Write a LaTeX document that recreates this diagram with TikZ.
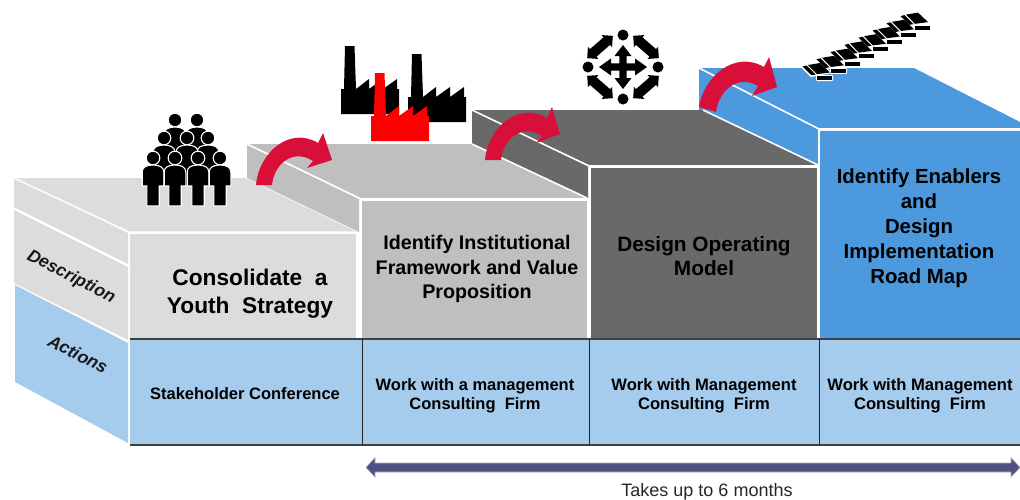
\documentclass[tikz,border=0pt]{standalone}
\usepackage{fontspec}
\setmainfont{Liberation Sans}
\definecolor{bone}{HTML}{DCDCDC}
\definecolor{btwo}{HTML}{BFBFBF}
\definecolor{bthree}{HTML}{696969}
\definecolor{bfour}{HTML}{4C9ADD}
\definecolor{act}{HTML}{A5CBED}
\definecolor{redarrow}{HTML}{D81039}
\definecolor{navy}{HTML}{4F4F82}
\tikzset{
 head/.style={align=center,inner sep=0pt,text=black},
 small/.style={font=\bfseries\fontsize{16.5}{19}\selectfont,align=center,inner sep=0pt,text=black},
 side/.style={font=\bfseries\itshape\fontsize{17.5}{19}\selectfont,inner sep=0pt,text=black!90},
 bent/.style={fill=redarrow},
 person/.pic={\fill[black,draw=white,line width=1.1pt] (0,0) circle (6.8);
   \fill[black,draw=white,line width=1.1pt] (-10.8,26) -- (-10.8,14) .. controls (-10.8,9) and (-6,7) .. (0,7) .. controls (6,7) and (10.8,9) .. (10.8,14) -- (10.8,28) -- (6.2,28) -- (6.2,48) -- (-6.2,48) -- (-6.2,28) -- (-10.8,28) -- cycle;},
 factory/.pic={\fill[pic actions] (0,0) -- (0,-25) -- (3,-25) -- (4,-68) -- (13.5,-68) -- (15,-25) -- (28,-35) -- (28,-25) -- (42,-35) -- (42,-25) -- (56,-35) -- (56,-25) -- (58,-25) -- (58,0) -- cycle;},
 dbl/.pic={\fill[black] (-17,0) -- (-9,-8) -- (-9,-5) -- (9,-5) -- (9,-8) -- (17,0) -- (9,8) -- (9,5) -- (-9,5) -- (-9,8) -- cycle;},
 stairhalo/.pic={\draw[white,line width=2pt,line join=round,fill=white] (0,0) rectangle (15,4) (-15,-9) -- (3,-13) -- (13,-3.5) -- (-6,0) -- cycle;},
 stair/.pic={\fill[black] (0,0) rectangle (15,4);
   \fill[black] (-14.5,-9.5) -- (-10.5,-10.5) -- (-1.5,-1.5) -- (-5.5,-.8) -- cycle;
   \fill[black] (-9,-11) -- (3,-13) -- (13,-3.5) -- (0,-1.8) -- cycle;},
}
\begin{document}
\begin{tikzpicture}[x=1pt,y=-1pt]
\useasboundingbox (0,0) rectangle (1020,499);
% block 4
\fill[bfour] (699,68) -- (914,68) -- (1020,122) -- (1020,130) -- (820,130) -- cycle;
\fill[bfour] (699,68) -- (819,128) -- (819,165) -- (699,110) -- cycle;
\draw[white,line width=1.6pt] (699,68) -- (819,129) -- (1020,129);
\draw[white,line width=1.6pt] (819,129) -- (819,340);
\fill[bfour] (820,131) rectangle (1020,338);
% block 3
\fill[bthree] (472,110) -- (703,110) -- (818,165) -- (589,165) -- cycle;
\fill[bthree] (472,110) -- (588,166) -- (588,198) -- (472,144) -- cycle;
\draw[white,line width=1.6pt] (472,110) -- (589,166) -- (818,166) (703,110) -- (818,165);
\fill[bthree] (591,167.5) rectangle (817,338);
% block 2
\fill[btwo] (247,144) -- (472,144) -- (586,198) -- (360,198) -- cycle;
\fill[btwo] (247,144) -- (359,199) -- (359,232) -- (247,178) -- cycle;
\draw[white,line width=1.6pt] (247,144) -- (361,199) -- (586,199);
\draw[white,line width=1.6pt] (472,144) -- (587,198);
\fill[btwo] (362,200.5) rectangle (587,338);
% block 1
\fill[bone] (14,178) -- (245,178) -- (357,232) -- (128,232) -- cycle;
\fill[bone] (14,178) -- (128,233) -- (128,264) -- (14,207) -- cycle;
\fill[bone] (14,210) -- (128,267) -- (128,340) -- (14,283) -- cycle;
\fill[act] (15,285) -- (128,343) -- (128,443) -- (15,382) -- cycle;
\draw[white,line width=1.4pt] (14,178) -- (129,232) -- (357,232);
\fill[bone] (130,233.5) rectangle (355.5,338);
% bottom row
\fill[act] (130,339) rectangle (1020,445);
\draw[black!75,line width=1.1pt] (130,339) -- (1020,339) (130,445) -- (1020,445);
\draw[black!85,line width=1pt] (362.5,339) -- (362.5,445) (589.5,339) -- (589.5,445) (819.5,339) -- (819.5,445);
% red arrows
\fill[bent] (256,185) .. controls (259,152) and (290,126) .. (318,143) -- (323,133) -- (332,160) -- (307,168) -- (313,161) .. controls (293,148) and (274,164) .. (272,185) -- cycle;
\fill[bent] (485,160) .. controls (488,127) and (519,101) .. (547,118) -- (552,107) -- (560,134) -- (536,143) -- (542,136) .. controls (522,123) and (503,139) .. (501,160) -- cycle;
\fill[bent] (699,107) .. controls (704,76) and (735,50) .. (764,67) -- (769,57) -- (777,87) -- (752,96) -- (758,86) .. controls (738,74) and (719,90) .. (716,112) -- cycle;
% people
\foreach \p in {(175,120),(197,120),(164,138),(187,138),(208,138),(153,158),(175,158),(198,158),(220,158)}
  \pic at \p {person};
% factories
\pic[fill=black] at (341,114) {factory};
\pic[fill=black] at (408,122) {factory};
\pic[fill=red] at (371,141) {factory};
% compass
\begin{scope}[shift={(623,67)}]
\fill[black] (0,-32) circle (5.5) (0,32) circle (5.5) (-35,0) circle (5.5) (35,0) circle (5.5);
\fill[black] (-24,0) -- (-12,-8.5) -- (-12,-3.7) -- (-3.7,-3.7) -- (-3.7,-11) -- (-8.5,-11) -- (0,-22) -- (8.5,-11) -- (3.7,-11) -- (3.7,-3.7) -- (12,-3.7) -- (12,-8.5) -- (24,0) -- (12,8.5) -- (12,3.7) -- (3.7,3.7) -- (3.7,11) -- (8.5,11) -- (0,22) -- (-8.5,11) -- (-3.7,11) -- (-3.7,3.7) -- (-12,3.7) -- (-12,8.5) -- cycle;
\pic[rotate=41] at (-23,-20) {dbl};
\pic[rotate=-41] at (23,-20) {dbl};
\pic[rotate=-41] at (-23,20) {dbl};
\pic[rotate=41] at (23,20) {dbl};
\end{scope}
% stairs
\foreach \i in {0,...,7} \pic at ({817+14*\i},{76-7.2*\i}) {stairhalo};
\foreach \i in {0,...,7} \pic at ({817+14*\i},{76-7.2*\i}) {stair};
% double arrow
\fill[navy,draw=navy!45,line width=.6pt] (366,467.5) -- (375,457.5) -- (375,463) -- (1011,463) -- (1011,457.5) -- (1020,467.5) -- (1011,477) -- (1011,472) -- (375,472) -- (375,477) -- cycle;
% text
\node[head,font=\bfseries\fontsize{22.7}{28}\selectfont] (t1) at (250,294) {Consolidate\ \ a\\Youth\ \ Strategy};
\node[head,font=\bfseries\fontsize{19.7}{24.5}\selectfont] (t2) at (477,269) {Identify Institutional\\Framework and Value\\Proposition};
\node[head,font=\bfseries\fontsize{20.8}{24.5}\selectfont] (t3) at (704,256) {Design Operating\\Model};
\node[head,font=\bfseries\fontsize{20.4}{25}\selectfont] (t4) at (919,228.5) {Identify Enablers\\and\\Design\\Implementation\\Road Map};
\node[small] (a1) at (245,393.5) {Stakeholder Conference};
\node[small] (a2) at (475,395.5) {Work with a management\\Consulting\ \ Firm};
\node[small,font=\bfseries\fontsize{16.6}{19}\selectfont] (a3) at (704,395.5) {Work with Management\\Consulting\ \ Firm};
\node[small,font=\bfseries\fontsize{16.6}{19}\selectfont] (a4) at (920,395.5) {Work with Management\\Consulting\ \ Firm};
\node[side,rotate=-27] (d) at (71,277) {Description};
\node[side,rotate=-27] (e) at (78,354) {Actions};
\node[inner sep=0pt,font=\fontsize{18}{19}\selectfont,text=black!85] (m) at (707,491.5) {Takes up to 6 months};
\end{tikzpicture}
\end{document}
